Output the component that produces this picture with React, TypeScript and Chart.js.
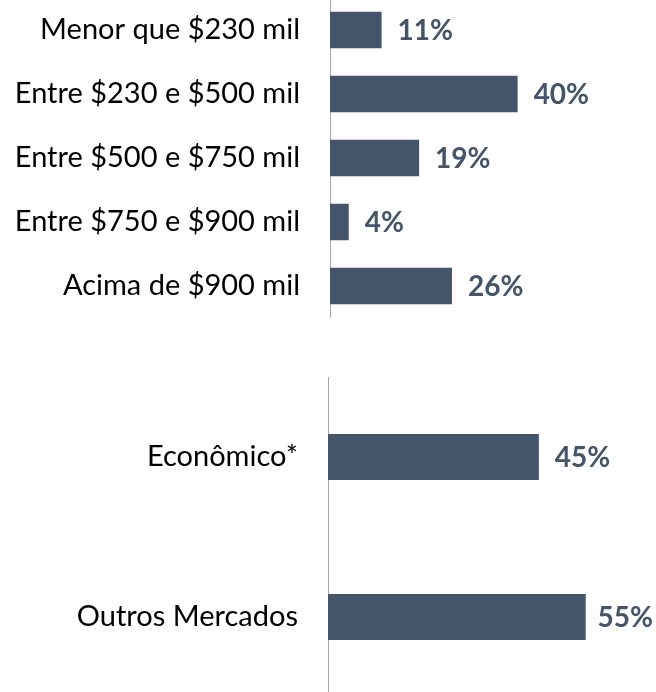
import React, { useEffect, useRef } from "react";
import { Chart, registerables } from "chart.js";

Chart.register(...registerables);

const incomeCategories = [
  "Menor que $230 mil",
  "Entre $230 e $500 mil",
  "Entre $500 e $750 mil",
  "Entre $750 e $900 mil",
  "Acima de $900 mil",
];
const incomeValues = [11, 40, 19, 4, 26];

const marketCategories = ["Econômico*", "Outros Mercados"];
const marketValues = [45, 55];

const BAR_COLOR = "#44546A";
const AXIS_COLOR = "#A6A6A6";
const FONT = "Lato, 'Open Sans', sans-serif";
const LABEL_SIZE = 29;
const VALUE_SIZE = 28;

const valueLabels = {
  id: "valueLabels",
  afterDatasetsDraw(chart: any) {
    const ctx = chart.ctx;
    const meta = chart.getDatasetMeta(0);
    const data = chart.data.datasets[0].data;
    ctx.save();
    ctx.font = `bold ${VALUE_SIZE}px ${FONT}`;
    ctx.fillStyle = BAR_COLOR;
    ctx.textBaseline = "middle";
    ctx.textAlign = "left";
    meta.data.forEach((el: any, i: number) => {
      const text = `${data[i]}%`;
      const w = ctx.measureText(text).width;
      let x = el.x + 16;
      if (x + w > chart.width - 3) x = chart.width - 3 - w;
      ctx.fillText(text, x, el.y + 1);
    });
    ctx.restore();
  },
};

type Props = {
  labels: string[];
  values: number[];
  axisLeft: number;
  max: number;
  barPct: number;
  top: number;
  height: number;
};

function BarChart({ labels, values, axisLeft, max, barPct, top, height }: Props) {
  const ref = useRef<HTMLCanvasElement | null>(null);
  useEffect(() => {
    if (!ref.current) return;
    const chart = new Chart(ref.current, {
      type: "bar",
      data: {
        labels,
        datasets: [
          {
            data: values,
            backgroundColor: BAR_COLOR,
            borderWidth: 0,
            categoryPercentage: 1,
            barPercentage: barPct,
          },
        ],
      },
      options: {
        indexAxis: "y",
        animation: false,
        responsive: false,
        maintainAspectRatio: false,
        layout: { padding: 0 },
        plugins: { legend: { display: false }, tooltip: { enabled: false } },
        scales: {
          x: { display: false, min: 0, max },
          y: {
            afterFit: (s: any) => {
              s.width = axisLeft;
              s.paddingTop = 0;
              s.paddingBottom = 0;
            },
            grid: { display: false, drawTicks: false },
            border: { display: true, color: AXIS_COLOR, width: 1 },
            ticks: {
              padding: 30,
              color: "#000000",
              font: { family: FONT, size: LABEL_SIZE },
            },
          },
        },
      },
      plugins: [valueLabels],
    } as any);
    return () => chart.destroy();
  }, []);
  return (
    <div style={{ position: "absolute", left: 0, top, width: 656, height }}>
      <canvas ref={ref} width={656} height={height} style={{ display: "block" }} />
    </div>
  );
}

export default function App() {
  return (
    <div
      style={{
        position: "fixed",
        left: 0,
        top: 0,
        width: 656,
        height: 692,
        overflow: "hidden",
        background: "#ffffff",
      }}
    >
      <BarChart
        labels={incomeCategories}
        values={incomeValues}
        axisLeft={330}
        max={69.5}
        barPct={0.57}
        top={-2}
        height={320}
      />
      <BarChart
        labels={marketCategories}
        values={marketValues}
        axisLeft={328}
        max={70}
        barPct={0.2875}
        top={377}
        height={320}
      />
    </div>
  );
}
